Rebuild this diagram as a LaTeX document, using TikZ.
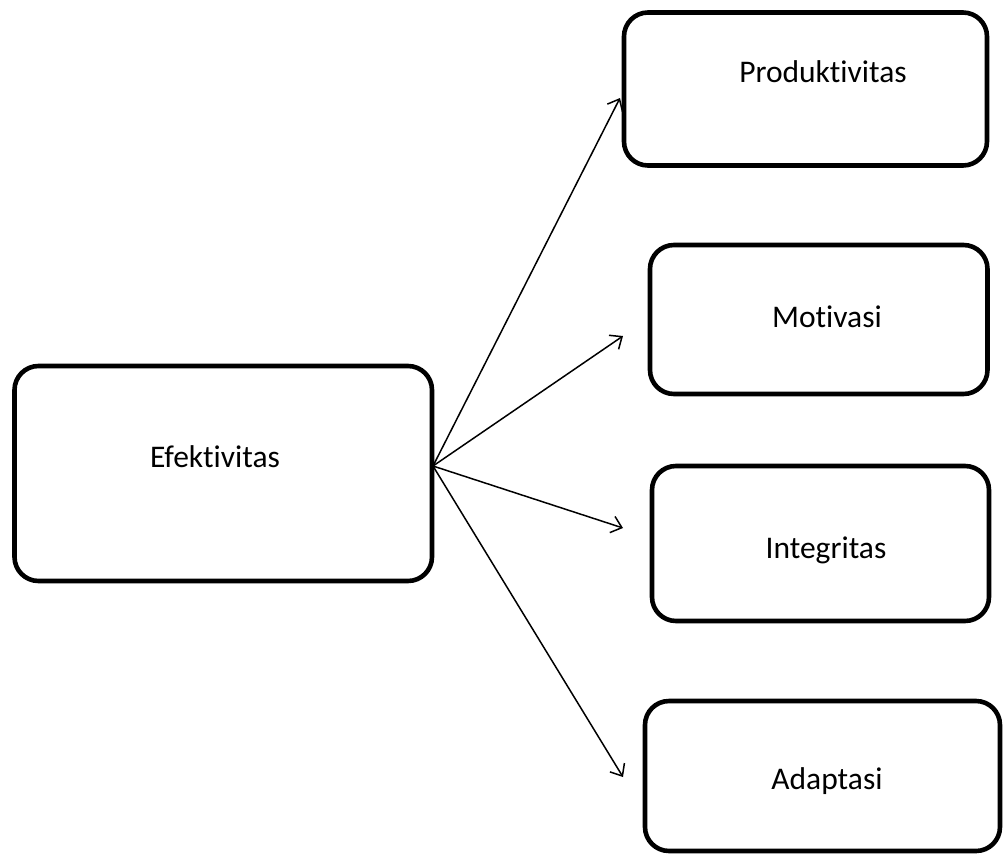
\documentclass[tikz,border=0pt]{standalone}
\usepackage{fontspec}
\setmainfont{Carlito}[Ligatures={NoCommon,NoContextual}]
\usetikzlibrary{arrows.meta}
\begin{document}
\begin{tikzpicture}[x=1pt,y=-1pt,
  box/.style={draw, line width=4.6pt, rounded corners=24pt, inner sep=0pt, outer sep=0pt},
  lbl/.style={font=\fontsize{31.5}{36}\selectfont, inner sep=0pt, anchor=base},
  conn/.style={line width=1.5pt, -{Straight Barb[length=10pt,width=17pt,line width=1.5pt]}}]
\useasboundingbox (0,0) rectangle (1007,855);
% boxes
\node[box, minimum width=417.5pt, minimum height=215pt] (ef) at (223.25,473.5) {};
\node[box, minimum width=363pt, minimum height=153pt] (pr) at (805.5,89) {};
\node[box, minimum width=337.5pt, minimum height=149pt] (mo) at (818.75,319.5) {};
\node[box, minimum width=337pt, minimum height=155pt] (in) at (820.5,543.5) {};
\node[box, minimum width=355pt, minimum height=150pt] (ad) at (822.5,776) {};
% labels
\node[lbl] (tef) at (215,467) {Efektivitas};
\node[lbl] (tpr) at (823,82) {Produktivitas};
\node[lbl] (tmo) at (827,327) {Motivasi};
\node[lbl] (tin) at (826,558) {Integritas};
\node[lbl] (tad) at (827,789) {Adaptasi};
% connectors
\coordinate (src) at (433,466);
\coordinate (epr) at (620,98);
\coordinate (emo) at (623,336);
\coordinate (ein) at (623,528);
\coordinate (ead) at (623,777);
\draw[conn] (src) -- (epr);
\draw[conn] (src) -- (emo);
\draw[conn] (src) -- (ein);
\draw[conn] (src) -- (ead);
\end{tikzpicture}
\end{document}
